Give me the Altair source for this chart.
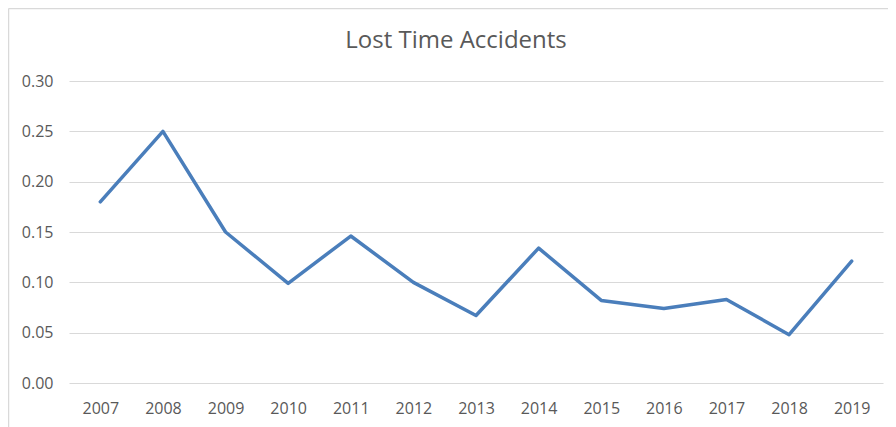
import altair as alt
import pandas as pd

years = ["2007", "2008", "2009", "2010", "2011", "2012", "2013",
         "2014", "2015", "2016", "2017", "2018", "2019"]
values = [0.18, 0.25, 0.15, 0.099, 0.146, 0.10, 0.067,
          0.134, 0.082, 0.074, 0.083, 0.048, 0.121]
y_ticks = [0.0, 0.05, 0.10, 0.15, 0.20, 0.25, 0.30]
title_text = ["Lost Time Accidents"]

df = pd.DataFrame({"year": years, "value": values})

line = alt.Chart(df).mark_line(
    color="#4A7EBB", strokeWidth=3.5, strokeCap="round", strokeJoin="round"
).encode(
    x=alt.X("year:O", sort=years,
            scale=alt.Scale(type="point", padding=0.5),
            axis=alt.Axis(title=None, labelAngle=0, ticks=False, tickSize=0,
                          domain=False, grid=False, labelPadding=17,
                          labelFont="Open Sans", labelFontSize=16,
                          labelColor="#595959")),
    y=alt.Y("value:Q", scale=alt.Scale(domain=[0, 0.3], nice=False, zero=True),
            axis=alt.Axis(title=None, values=y_ticks, format=".2f",
                          ticks=False, tickSize=0, domain=False, grid=True,
                          gridColor="#d9d9d9", gridWidth=1,
                          labelPadding=16, labelFont="Open Sans",
                          labelFontSize=16, labelColor="#595959")),
)

edge = pd.DataFrame({"b": [0]})
left_border = alt.Chart(edge).mark_rule(color="#d9d9d9", strokeWidth=1.5).encode(
    x=alt.value(-60.5), y=alt.value(-72.5), y2=alt.value(370)
)
top_border = alt.Chart(edge).mark_rule(color="#d9d9d9", strokeWidth=1.5).encode(
    x=alt.value(-60.5), x2=alt.value(860), y=alt.value(-72.5)
)

title = alt.Chart(pd.DataFrame({"t": title_text})).mark_text(
    font="Open Sans", fontSize=24, color="#595959", align="center",
    baseline="alphabetic"
).encode(text="t:N", x=alt.value(387), y=alt.value(-33))

chart = alt.layer(left_border, top_border, line, title).properties(
    width=814, height=302,
    padding={"left": 61, "top": 73, "right": 5, "bottom": 44},
    autosize=alt.AutoSizeParams(type="none"),
    background="white",
).configure_view(strokeWidth=0)

chart.save("out.html", embed_options={"renderer": "svg", "actions": False})
